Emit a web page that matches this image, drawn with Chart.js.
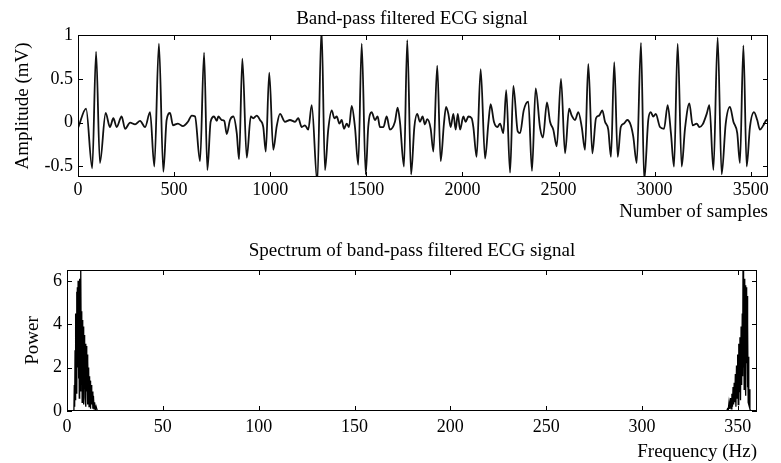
<!DOCTYPE html>
<html>
<head>
<meta charset="utf-8">
<script src="https://cdn.jsdelivr.net/npm/chart.js@4/dist/chart.umd.min.js"></script>
<style>
  html, body { margin: 0; padding: 0; background: #fff; }
  #wrap { position: relative; width: 781px; height: 463px; }
  canvas { position: absolute; left: 0; }
  #ecgChart { top: 0; }
  #specChart { top: 231px; }
</style>
</head>
<body>
<div id="wrap">
  <canvas id="ecgChart" width="781" height="231"></canvas>
  <canvas id="specChart" width="781" height="232"></canvas>
</div>
<script>
// ---- data ----
// band-pass filtered ECG, vertices as [sample, amplitude mV]
const ecgPoints = [
  [2,-0.05],[42,0.16],[74,-0.52],[94,0.81],[114,-0.46],[144,0.11],[166,-0.05],[184,0.05],[201,-0.05],
  [227,0.07],[245,-0.07],[271,0],[297,-0.02],[323,0.02],[349,-0.05],[375,0.12],[397,-0.5],[421,0.9],
  [444,-0.56],[461,0.03],[479,0.11],[494,-0.03],[520,-0.01],[546,-0.04],[572,0.01],[592,0.08],[609,0.07],
  [635,-0.44],[656,0.8],[673,-0.54],[690,0.01],[708,0.07],[722,0.02],[730,0.07],[748,0.03],[761,0.02],
  [774,-0.13],[791,0.03],[808,0.07],[826,-0.12],[838,-0.42],[855,0.73],[878,-0.4],[899,0.07],[912,0.05],
  [930,0.08],[947,0.03],[964,-0.05],[977,-0.33],[995,0.57],[1016,-0.31],[1034,-0.04],[1051,0.1],[1077,0.01],
  [1103,0.03],[1129,0.01],[1146,0.05],[1164,-0.05],[1181,-0.03],[1198,-0.08],[1216,0.2],[1245,-0.68],
  [1267,1.08],[1285,-0.54],[1302,-0.08],[1320,0.14],[1334,0.05],[1346,0.07],[1360,-0.01],[1372,0.03],
  [1384,-0.07],[1398,-0.01],[1410,-0.05],[1424,0.19],[1441,-0.05],[1458,-0.48],[1476,0.9],[1497,-0.59],
  [1510,-0.05],[1528,0.12],[1545,0.03],[1559,0.07],[1571,-0.05],[1589,-0.05],[1606,0.07],[1623,-0.08],
  [1649,0.01],[1663,0.17],[1675,0.01],[1696,-0.5],[1713,0.94],[1733,-0.59],[1750,-0.05],[1765,0.1],
  [1779,0.01],[1793,0.07],[1805,-0.02],[1817,0.04],[1835,-0.07],[1849,-0.33],[1869,0.65],[1887,-0.44],
  [1904,-0.01],[1915,0.18],[1927,0.1],[1939,-0.05],[1953,0.1],[1965,-0.08],[1976,0.1],[1988,-0.08],
  [2005,0.07],[2017,0.01],[2031,0.07],[2048,0.05],[2057,-0.05],[2074,-0.39],[2095,0.61],[2118,-0.41],
  [2135,-0.01],[2147,0.21],[2164,0.01],[2182,-0.05],[2196,-0.01],[2213,-0.12],[2228,0.37],[2248,-0.57],
  [2265,0.42],[2288,-0.1],[2300,-0.12],[2319,0.14],[2343,0.24],[2362,-0.55],[2381,0.39],[2404,-0.06],
  [2419,-0.17],[2440,0.23],[2456,0.01],[2473,-0.08],[2491,-0.27],[2513,0.5],[2534,-0.35],[2555,0.16],
  [2569,0.08],[2586,0.03],[2603,0.12],[2621,-0.05],[2638,-0.31],[2655,0.67],[2676,-0.35],[2695,0.05],
  [2711,0.08],[2728,0.14],[2742,0.01],[2759,-0.08],[2773,-0.39],[2790,0.69],[2808,-0.39],[2824,-0.05],
  [2841,-0.01],[2858,0.03],[2876,-0.03],[2889,-0.16],[2907,-0.46],[2929,0.91],[2946,-0.66],[2967,0.03],
  [2980,0.12],[2993,0.07],[3006,0.1],[3028,-0.05],[3049,-0.07],[3068,0.2],[3085,-0.12],[3101,-0.5],
  [3120,0.9],[3141,-0.5],[3158,-0.07],[3181,0.22],[3198,-0.03],[3219,-0.01],[3233,-0.05],[3250,-0.02],
  [3271,0.1],[3285,0.2],[3306,-0.54],[3328,0.97],[3349,-0.59],[3370,-0.01],[3392,0.18],[3410,0.01],
  [3430,-0.12],[3444,-0.46],[3462,0.88],[3479,-0.5],[3496,-0.05],[3517,0.12],[3534,0.03],[3548,-0.08],
  [3566,-0.03],[3583,0.03],[3590,0.01]
];

// spectrum, [frequency Hz, power]: low cluster, flat middle, mirrored high cluster
const spectrumLow = [
  [0,0.02],[3.6,0],[3.8,1.2],[4.0,0.2],[4.2,2.8],[4.4,0.5],[4.6,4.5],[4.8,1.0],[5.0,5.5],[5.2,0.8],
  [5.4,5.7],[5.6,2.0],[5.8,6.0],[6.0,1.5],[6.2,5.9],[6.4,0.6],[6.6,6.1],[6.8,2.2],[7.0,5.4],[7.2,0.9],
  [7.3,6.6],[7.5,1.8],[7.7,4.6],[7.9,0.4],[8.1,4.2],[8.3,1.3],[8.5,3.9],[8.7,0.3],[8.9,3.5],[9.1,1.0],
  [9.3,3.3],[9.5,0.6],[9.7,3.1],[9.9,0.2],[10.1,3.0],[10.3,0.9],[10.5,2.6],[10.7,0.3],[10.9,2.3],
  [11.1,0.8],[11.3,2.0],[11.5,0.2],[11.7,1.6],[11.9,0.5],[12.1,1.4],[12.3,0.1],[12.6,1.2],[12.9,0.3],
  [13.2,0.9],[13.5,0.1],[13.8,0.7],[14.1,0.1],[14.4,0.4],[14.8,0.05],[15.2,0.2],[15.8,0.02],[16.5,0]
];
const spectrumHigh = [
  [344.2,0],[344.6,0.1],[345.0,0.05],[345.4,0.4],[345.8,0.1],[346.2,0.6],[346.6,0.1],[346.9,0.8],
  [347.2,0.2],[347.5,1.1],[347.8,0.3],[348.1,1.3],[348.4,0.4],[348.7,1.7],[349.0,0.2],[349.3,2.1],
  [349.6,0.6],[349.9,2.6],[350.2,0.3],[350.5,3.1],[350.8,0.9],[351.1,3.4],[351.4,0.5],[351.7,3.9],
  [352.0,1.2],[352.3,4.5],[352.5,1.6],[352.7,6.6],[352.9,2.0],[353.1,5.3],[353.3,1.0],[353.6,6.1],
  [353.8,1.8],[354.0,5.8],[354.2,0.7],[354.4,5.7],[354.6,2.2],[354.8,5.3],[355.0,1.1],[355.2,4.0],
  [355.4,0.4],[355.6,2.5],[355.8,0.3],[356.0,1.0],[356.3,0.1],[356.6,0],[360,0.02]
];

const sampleTicks = [0, 500, 1000, 1500, 2000, 2500, 3000, 3500];
const amplitudeTicks = [-0.5, 0, 0.5, 1];
const freqTicks = [0, 50, 100, 150, 200, 250, 300, 350];
const powerTicks = [0, 2, 4, 6];

Chart.defaults.font.family = "'Liberation Serif', 'Times New Roman', serif";
Chart.defaults.font.size = 18;
Chart.defaults.color = '#000';

const toXY = arr => arr.map(p => ({ x: p[0], y: p[1] }));

// matlab style box with inward ticks on all four sides, plus titles
function matlabAxes(title, yLabel, xLabel, xLabelY) {
    return {
        id: 'matlabAxes',
        afterDraw(chart) {
            const { ctx, chartArea: a, scales } = chart;
            ctx.save();
            ctx.strokeStyle = '#000';
            ctx.lineWidth = 1;
            ctx.strokeRect(a.left + 0.5, a.top + 0.5, a.right - a.left - 1, a.bottom - a.top - 1);
            const tl = 5;
            ctx.beginPath();
            scales.x.ticks.forEach(t => {
                const px = Math.round(scales.x.getPixelForValue(t.value)) + 0.5;
                ctx.moveTo(px, a.bottom); ctx.lineTo(px, a.bottom - tl);
                ctx.moveTo(px, a.top); ctx.lineTo(px, a.top + tl);
            });
            scales.y.ticks.forEach(t => {
                const py = Math.round(scales.y.getPixelForValue(t.value)) + 0.5;
                ctx.moveTo(a.left, py); ctx.lineTo(a.left + tl, py);
                ctx.moveTo(a.right, py); ctx.lineTo(a.right - tl, py);
            });
            ctx.stroke();

            ctx.fillStyle = '#000';
            ctx.font = "19px 'Liberation Serif', serif";
            ctx.textBaseline = 'middle';
            ctx.textAlign = 'center';
            ctx.fillText(title.text, title.x, title.y);
            ctx.textAlign = 'right';
            ctx.fillText(xLabel, a.right, xLabelY);
            ctx.translate(yLabel.x, (a.top + a.bottom) / 2);
            ctx.rotate(-Math.PI / 2);
            ctx.textAlign = 'center';
            ctx.fillText(yLabel.text, 0, 0);
            ctx.restore();
        }
    };
}

function axisOpts(tickList, min, max, fitKey, fitSize, pad) {
    return {
        type: 'linear',
        min: min,
        max: max,
        grid: { display: false, drawTicks: false },
        border: { display: false },
        afterBuildTicks: s => { s.ticks = tickList.map(v => ({ value: v })); },
        afterFit: s => { s[fitKey] = fitSize; },
        ticks: { padding: pad, autoSkip: false, maxRotation: 0, callback: v => String(v) }
    };
}

new Chart(document.getElementById('ecgChart'), {
    type: 'line',
    data: {
        datasets: [{
            data: toXY(ecgPoints),
            borderColor: '#111',
            borderWidth: 1.8,
            pointRadius: 0,
            cubicInterpolationMode: 'monotone',
            clip: 0
        }]
    },
    options: {
        responsive: false,
        animation: false,
        devicePixelRatio: 1,
        layout: { padding: { left: 0, top: 35, right: 13, bottom: 0 } },
        plugins: { legend: { display: false }, tooltip: { enabled: false } },
        scales: {
            x: axisOpts(sampleTicks, 0, 3590, 'height', 54, 2),
            y: axisOpts(amplitudeTicks, -0.62, 1.0, 'width', 78, 5)
        }
    },
    plugins: [matlabAxes(
        { text: 'Band-pass filtered ECG signal', x: 412, y: 19 },
        { text: 'Amplitude (mV)', x: 23 },
        'Number of samples', 212
    )]
});

new Chart(document.getElementById('specChart'), {
    type: 'line',
    data: {
        datasets: [{
            data: toXY(spectrumLow.concat(spectrumHigh)),
            borderColor: '#000',
            borderWidth: 1.3,
            pointRadius: 0,
            tension: 0,
            clip: 0
        }]
    },
    options: {
        responsive: false,
        animation: false,
        devicePixelRatio: 1,
        layout: { padding: { left: 0, top: 39, right: 24, bottom: 0 } },
        plugins: { legend: { display: false }, tooltip: { enabled: false } },
        scales: {
            x: axisOpts(freqTicks, 0, 360, 'height', 52, 5),
            y: axisOpts(powerTicks, 0, 6.5, 'width', 67, 5)
        }
    },
    plugins: [matlabAxes(
        { text: 'Spectrum of band-pass filtered ECG signal', x: 412, y: 20 },
        { text: 'Power', x: 33 },
        'Frequency (Hz)', 221
    )]
});
</script>
</body>
</html>
